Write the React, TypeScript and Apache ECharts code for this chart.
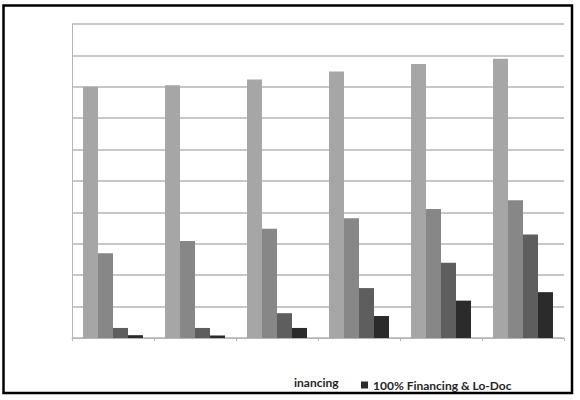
import React, { useEffect, useRef } from "react";
import * as echarts from "echarts";

const categories = ["2001", "2002", "2003", "2004", "2005", "2006"];
const seriesNames = ["Standard", "Lo-Doc", "100% Financing", "100% Financing & Lo-Doc"];
const standard = [8.0, 8.05, 8.23, 8.49, 8.73, 8.89];
const loDoc = [2.7, 3.09, 3.48, 3.81, 4.11, 4.39];
const fullFinancing = [0.32, 0.32, 0.79, 1.59, 2.4, 3.3];
const fullFinancingLoDoc = [0.09, 0.08, 0.32, 0.7, 1.19, 1.46];
const colors = ["#a6a6a6", "#878787", "#5e5e5e", "#2b2b2b"];

export default function App() {
  const ref = useRef<HTMLDivElement>(null);
  useEffect(() => {
    if (!ref.current) return;
    const chart = echarts.init(ref.current, null, { renderer: "svg" });
    const values = [standard, loDoc, fullFinancing, fullFinancingLoDoc];
    chart.setOption({
      animation: false,
      backgroundColor: "#ffffff",
      grid: { left: 72, right: 16, top: 24, bottom: 62 },
      legend: {
        data: [seriesNames[3]],
        left: 356,
        top: 374,
        icon: "rect",
        itemWidth: 7,
        itemHeight: 7,
        itemGap: 4,
        textStyle: { fontFamily: "Lato", fontWeight: "bold", fontSize: 12, color: "#262626" },
        selectedMode: false,
      },
      xAxis: {
        type: "category",
        data: categories,
        axisLine: { lineStyle: { color: "#b5b5b5", width: 1 } },
        axisTick: { show: true, length: 3, lineStyle: { color: "#b5b5b5" } },
        axisLabel: { show: false },
      },
      yAxis: {
        type: "value",
        min: 0,
        max: 10,
        interval: 1,
        axisLine: { show: true, lineStyle: { color: "#b5b5b5" } },
        axisTick: { show: false },
        axisLabel: { show: false },
        splitLine: { lineStyle: { color: "#b5b5b5", width: 1.5 } },
      },
      series: values.map((v, i) => ({
        name: seriesNames[i],
        type: "bar",
        data: v,
        barWidth: 15,
        barGap: "0%",
        itemStyle: { color: colors[i] },
      })),
      graphic: [
        {
          type: "rect",
          shape: { x: 3.5, y: 5.5, width: 568.5, height: 387.5 },
          style: { fill: "none", stroke: "#000000", lineWidth: 2.5 },
          silent: true,
        },
        {
          type: "text",
          x: 294,
          y: 382,
          style: {
            text: "inancing",
            fontFamily: "Lato",
            fontWeight: "bold",
            fontSize: 12,
            fill: "#262626",
            verticalAlign: "middle",
          },
        },
      ],
    });
    return () => chart.dispose();
  }, []);
  return (
    <div
      ref={ref}
      style={{ position: "fixed", left: 0, top: 0, width: 580, height: 400 }}
    />
  );
}
